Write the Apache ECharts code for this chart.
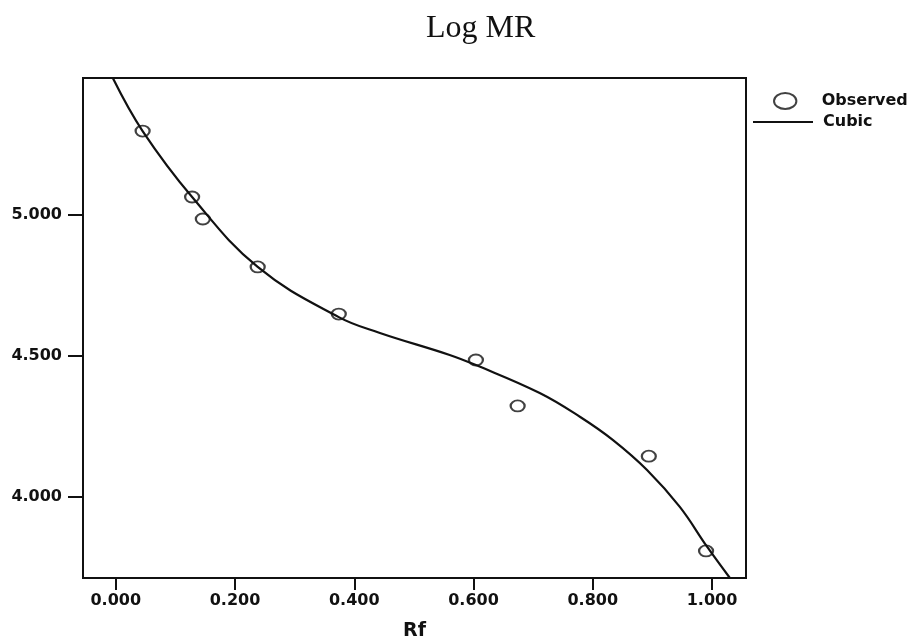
<!DOCTYPE html>
<html>
<head>
<meta charset="utf-8">
<script src="https://cdn.jsdelivr.net/npm/echarts@6/dist/echarts.min.js"></script>
<style>
html, body { margin: 0; padding: 0; background: #fff; }
#chart { width: 917px; height: 639px; }
</style>
</head>
<body>
<div id="chart"></div>
<script>
// observed points (Rf, Log MR)
let obsRf = [0.045, 0.128, 0.146, 0.238, 0.374, 0.604, 0.674, 0.894, 0.990]
let obsLogMR = [5.298, 5.064, 4.986, 4.816, 4.649, 4.486, 4.323, 4.145, 3.809]
// cubic fit curve
let cubicRf = [-0.005, 0.045, 0.128, 0.238, 0.374, 0.443, 0.560, 0.604, 0.711, 0.779, 0.834, 0.891, 0.946, 0.992, 1.030]
let cubicLogMR = [5.486, 5.298, 5.064, 4.816, 4.638, 4.582, 4.504, 4.468, 4.369, 4.284, 4.202, 4.096, 3.965, 3.823, 3.713]
let xTicks = [0, 0.2, 0.4, 0.6, 0.8, 1.0]
let yTicks = [4.0, 4.5, 5.0]

let ch = echarts.init(document.getElementById('chart'))
let ellipse = 'path://M0,5A7,5 0 1,1 14,5A7,5 0 1,1 0,5Z'
let lblFont = { color: '#111', fontFamily: 'DejaVu Sans', fontWeight: 'bold', fontSize: 16 }

let option = {
  animation: false,
  title: {
    text: 'Log MR',
    left: 421,
    top: 8,
    textStyle: { fontFamily: 'Liberation Serif', fontWeight: 'normal', fontSize: 32, color: '#111' }
  },
  legend: [
    {
      data: [{ name: 'Observed', icon: ellipse }],
      left: 773,
      top: 92,
      padding: 0,
      itemWidth: 27,
      itemHeight: 16,
      textStyle: Object.assign({}, lblFont, { padding: [0, 0, 0, 18] })
    },
    {
      data: [{ name: 'Cubic', icon: 'path://M0,0H60V2H0Z' }],
      left: 753,
      top: 114,
      padding: 0,
      itemWidth: 60,
      itemHeight: 2,
      textStyle: Object.assign({}, lblFont, { padding: [0, 0, 0, 5] })
    }
  ],
  grid: {
    left: 83,
    right: 171,
    top: 78,
    bottom: 61,
    outerBoundsMode: 'none',
    show: true,
    borderColor: '#111',
    borderWidth: 2
  },
  xAxis: {
    type: 'value',
    min: -0.055,
    max: 1.057,
    name: 'Rf',
    nameLocation: 'middle',
    nameGap: 44,
    nameTextStyle: { color: '#111', fontFamily: 'DejaVu Sans', fontWeight: 'bold', fontSize: 19 },
    axisLine: { show: true, onZero: false, lineStyle: { color: '#111', width: 2 } },
    axisTick: { show: true, length: 12, customValues: xTicks, lineStyle: { color: '#111', width: 2 } },
    axisLabel: Object.assign({}, lblFont, {
      customValues: xTicks,
      margin: 15,
      formatter: v => v.toFixed(3)
    }),
    splitLine: { show: false }
  },
  yAxis: {
    type: 'value',
    min: 3.713,
    max: 5.486,
    axisLine: { show: true, onZero: false, lineStyle: { color: '#111', width: 2 } },
    axisTick: { show: true, length: 15, customValues: yTicks, lineStyle: { color: '#111', width: 2 } },
    axisLabel: Object.assign({}, lblFont, {
      customValues: yTicks,
      margin: 21,
      formatter: v => v.toFixed(3)
    }),
    splitLine: { show: false }
  },
  series: [
    {
      name: 'Cubic',
      type: 'line',
      data: cubicRf.map((x, i) => [x, cubicLogMR[i]]),
      smooth: 0.4,
      symbol: 'none',
      lineStyle: { color: '#111', width: 2.2 },
      itemStyle: { color: '#111' },
      z: 2
    },
    {
      name: 'Observed',
      type: 'scatter',
      data: obsRf.map((x, i) => [x, obsLogMR[i]]),
      symbol: ellipse,
      symbolSize: [14, 11],
      itemStyle: { color: 'rgba(0,0,0,0)', borderColor: '#111', borderWidth: 2 },
      z: 3
    }
  ]
}
ch.setOption(option)
</script>
</body>
</html>
